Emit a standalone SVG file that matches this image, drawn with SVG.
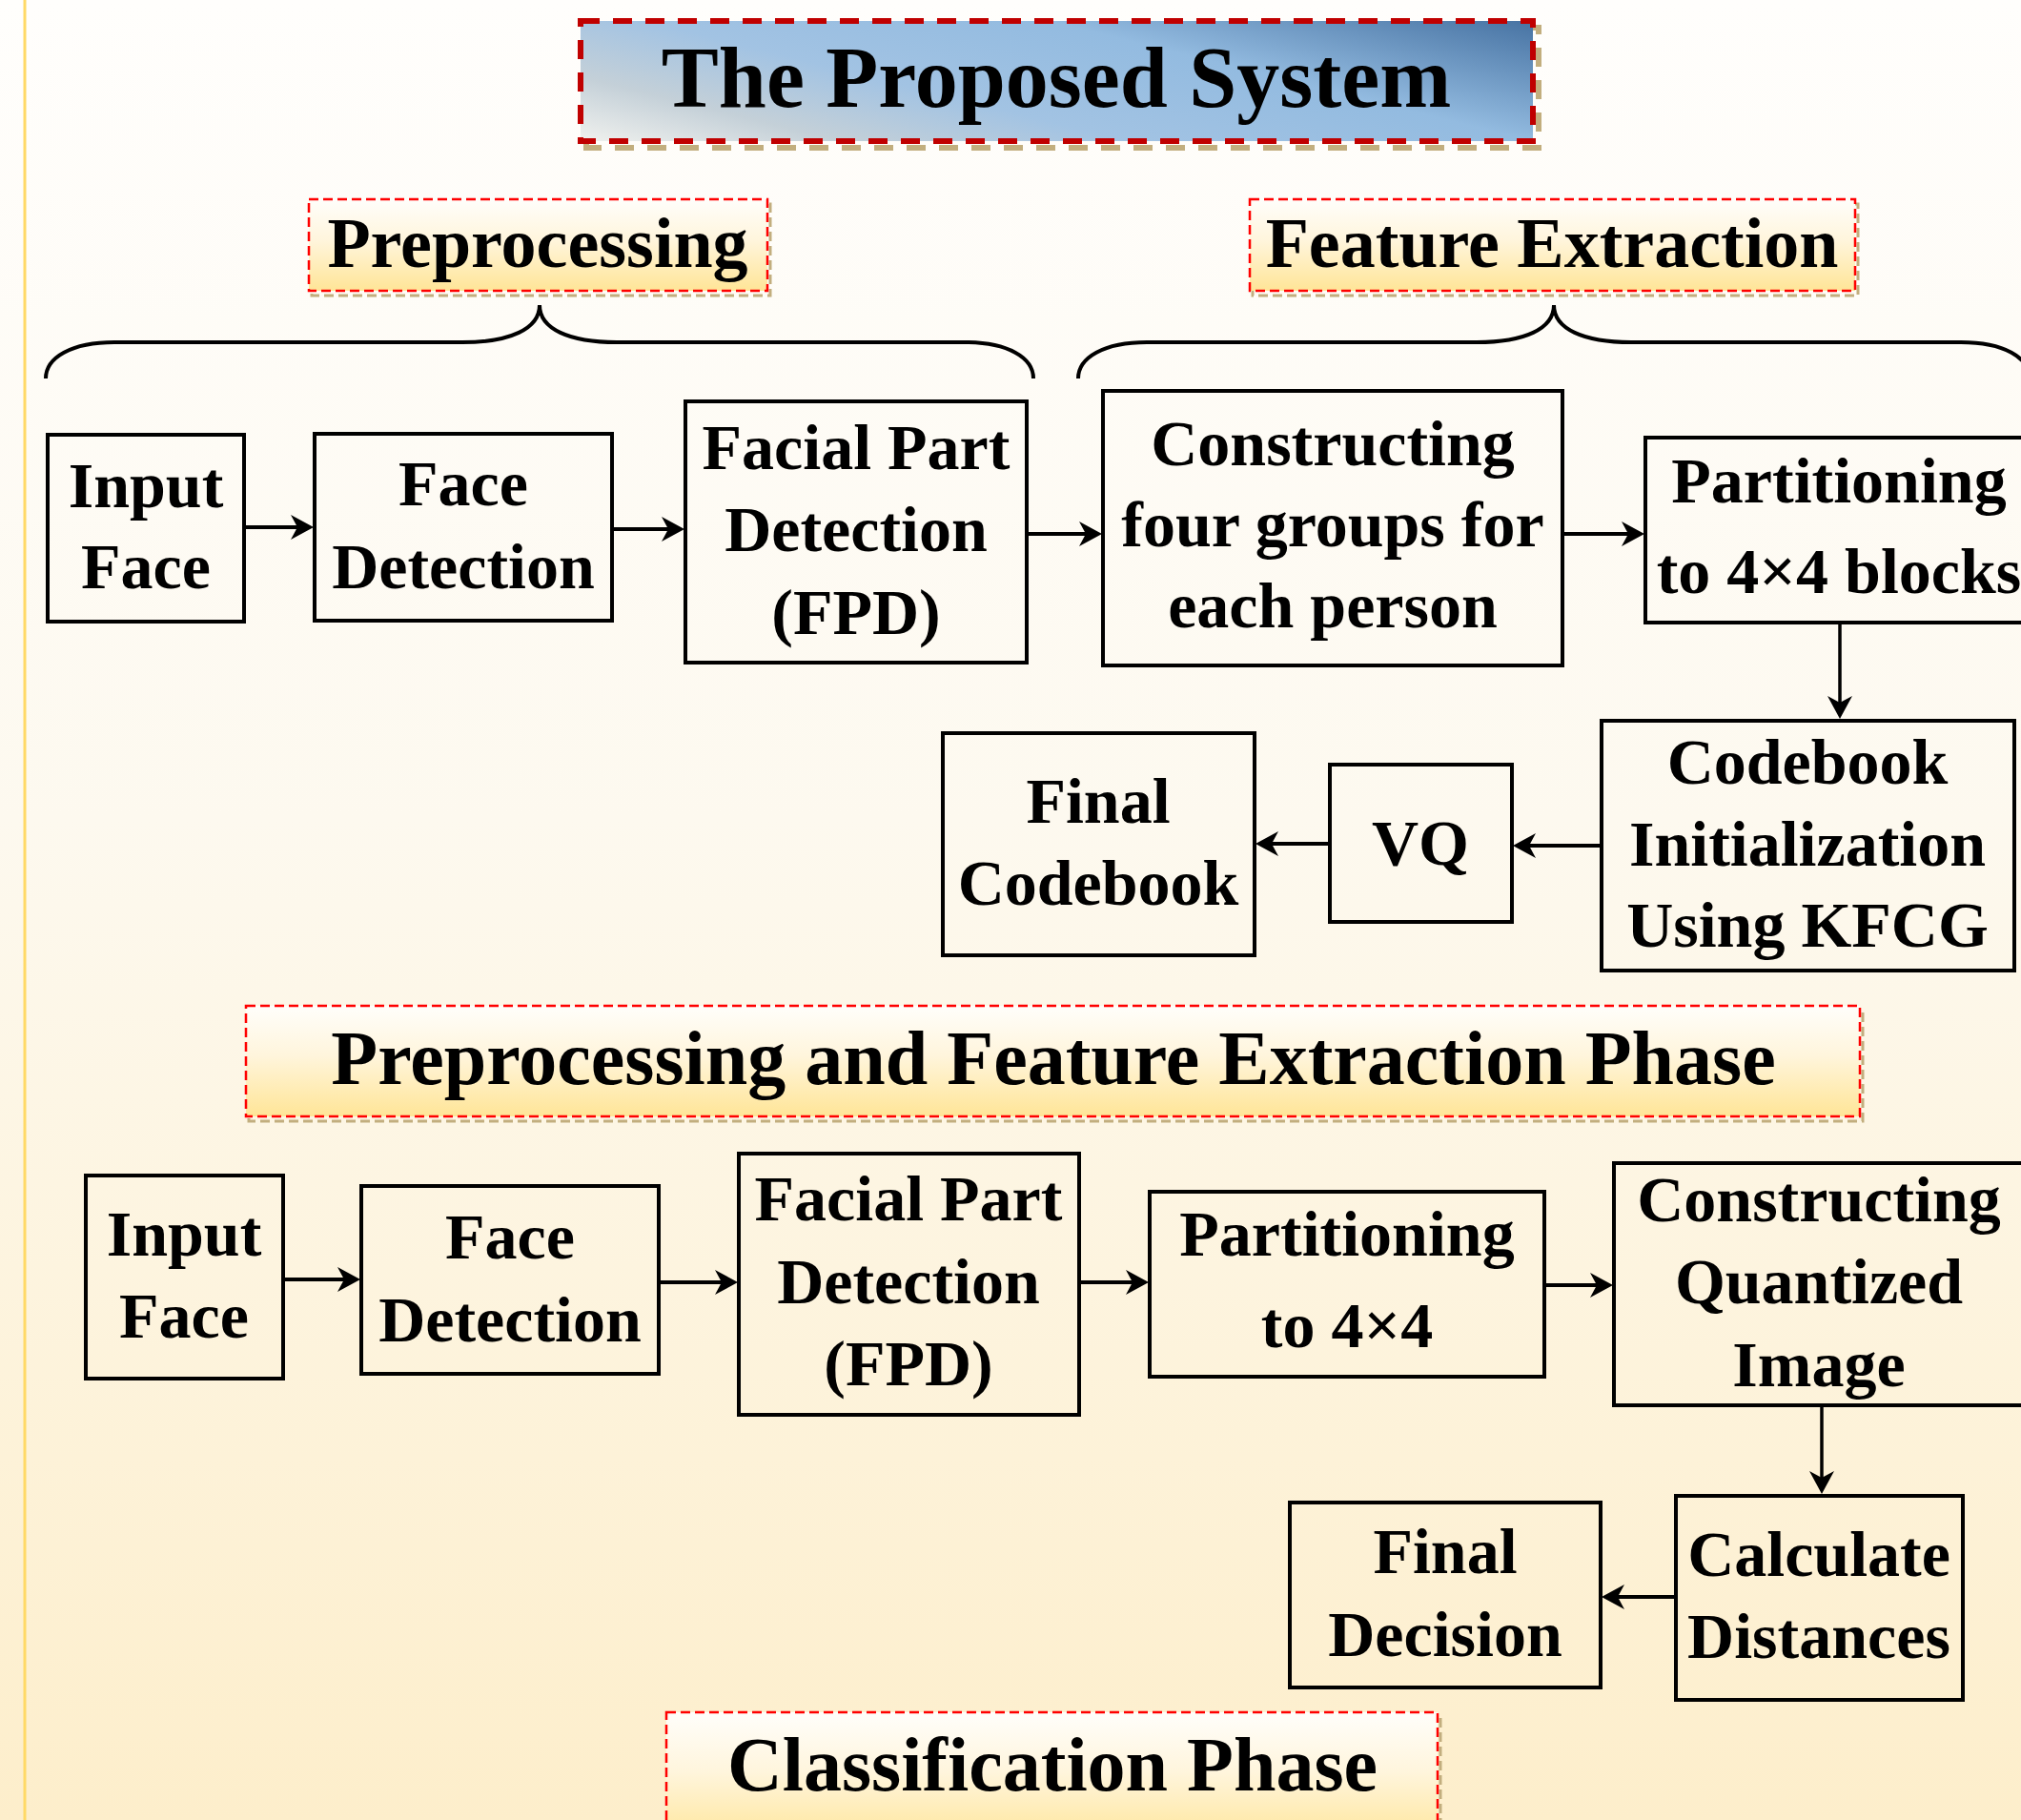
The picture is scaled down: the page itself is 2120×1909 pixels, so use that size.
<svg xmlns="http://www.w3.org/2000/svg" width="2120" height="1909" viewBox="0 0 2120 1909">
  <defs>
    <linearGradient id="bg" x1="0" y1="0" x2="0" y2="1">
      <stop offset="0" stop-color="#fffefc"/>
      <stop offset="0.45" stop-color="#fdf9ef"/>
      <stop offset="1" stop-color="#fdeecb"/>
    </linearGradient>
    <linearGradient id="titleGrad" gradientUnits="userSpaceOnUse" x1="609" y1="148" x2="697" y2="-206">
      <stop offset="0" stop-color="#f0f1ee"/>
      <stop offset="0.18" stop-color="#c4d0d8"/>
      <stop offset="0.38" stop-color="#a2c3e3"/>
      <stop offset="0.66" stop-color="#93bbe0"/>
      <stop offset="1" stop-color="#4672a2"/>
    </linearGradient>
    <linearGradient id="labelGrad" x1="0" y1="0" x2="0" y2="1">
      <stop offset="0" stop-color="#fffefb"/>
      <stop offset="0.45" stop-color="#fff5dc"/>
      <stop offset="1" stop-color="#ffe597"/>
    </linearGradient>
    <marker id="arrow" markerUnits="userSpaceOnUse" markerWidth="26" markerHeight="28" refX="12" refY="13" orient="auto" viewBox="0 0 26 26">
      <path d="M0,0 L24,13 L0,26 L7,13 Z" fill="#000"/>
    </marker>
    <style>
      .node rect { fill: none; stroke: #000; stroke-width: 4; }
      .node text { font-family: "Liberation Serif", "Times New Roman", serif; font-weight: bold; font-size: 68px; fill: #000; text-anchor: middle; }
      .lbl text { font-family: "Liberation Serif", "Times New Roman", serif; font-weight: bold; fill: #000; text-anchor: middle; }
      .lblshadow { fill: none; stroke: #c2ae7e; stroke-width: 3; stroke-dasharray: 10 5; }
      .lblbox { fill: url(#labelGrad); stroke: #ff0000; stroke-width: 2.5; stroke-dasharray: 10 5; }
      .conn line { stroke: #000; stroke-width: 4; marker-end: url(#arrow); }
      .conn line.v { stroke-width: 3.5; }
      .brace { fill: none; stroke: #000; stroke-width: 4; }
    </style>
  </defs>

  <rect x="0" y="0" width="2120" height="1909" fill="url(#bg)"/>
  <line x1="26" y1="0" x2="26" y2="1909" stroke="#ffd966" stroke-width="3"/>

  <g id="title" class="lbl">
    <rect x="615" y="29" width="999" height="126" fill="none" stroke="#c2ae7e" stroke-width="6" stroke-dasharray="20 14"/>
    <rect x="609" y="22" width="999" height="126" fill="url(#titleGrad)" stroke="#c00000" stroke-width="6" stroke-dasharray="20 14"/>
    <text x="1108" y="112" font-size="90">The Proposed System</text>
  </g>

  <g id="label-preprocessing" class="lbl">
    <rect class="lblshadow" x="327" y="214" width="481" height="96"/>
    <rect class="lblbox" x="324" y="209" width="481" height="96"/>
    <text x="564" y="280" font-size="74">Preprocessing</text>
  </g>

  <g id="label-feature-extraction" class="lbl">
    <rect class="lblshadow" x="1314" y="214" width="635" height="96"/>
    <rect class="lblbox" x="1311" y="209" width="635" height="96"/>
    <text x="1628" y="280" font-size="74">Feature Extraction</text>
  </g>

  <g id="braces">
    <path class="brace" d="M48,397 C48,375 75,359 120,359 L485,359 C535,359 566,345 566,320 C566,345 597,359 647,359 L1012,359 C1057,359 1084,375 1084,397"/>
    <path class="brace" d="M1131,397 C1131,375 1158,359 1203,359 L1549,359 C1599,359 1630,345 1630,320 C1630,345 1661,359 1711,359 L2057,359 C2102,359 2129,375 2129,397"/>
  </g>

  <!-- Row 1 -->
  <g id="input-face-1" class="node">
    <rect x="50" y="456" width="206" height="196"/>
    <text><tspan x="153" y="532">Input</tspan><tspan x="153" y="617">Face</tspan></text>
  </g>
  <g id="face-detection-1" class="node">
    <rect x="330" y="455" width="312" height="196"/>
    <text><tspan x="486" y="530">Face</tspan><tspan x="486" y="617">Detection</tspan></text>
  </g>
  <g id="fpd-1" class="node">
    <rect x="719" y="421" width="358" height="274"/>
    <text><tspan x="898" y="492">Facial Part</tspan><tspan x="898" y="578">Detection</tspan><tspan x="898" y="665">(FPD)</tspan></text>
  </g>
  <g id="constructing-groups" class="node">
    <rect x="1157" y="410" width="482" height="288"/>
    <text><tspan x="1398" y="488">Constructing</tspan><tspan x="1398" y="573">four groups for</tspan><tspan x="1398" y="658">each person</tspan></text>
  </g>
  <g id="partitioning-1" class="node">
    <rect x="1726" y="459" width="406" height="194"/>
    <text><tspan x="1929" y="527">Partitioning</tspan><tspan x="1929" y="622">to 4×4 blocks</tspan></text>
  </g>
  <g id="codebook-init" class="node">
    <rect x="1680" y="756" width="433" height="262"/>
    <text><tspan x="1896" y="822">Codebook</tspan><tspan x="1896" y="908">Initialization</tspan><tspan x="1896" y="993">Using KFCG</tspan></text>
  </g>
  <g id="vq" class="node">
    <rect x="1395" y="802" width="191" height="165"/>
    <text x="1490" y="907">VQ</text>
  </g>
  <g id="final-codebook" class="node">
    <rect x="989" y="769" width="327" height="233"/>
    <text><tspan x="1152" y="863">Final</tspan><tspan x="1152" y="949">Codebook</tspan></text>
  </g>

  <g id="label-phase-1" class="lbl">
    <rect class="lblshadow" x="261" y="1060" width="1693" height="116"/>
    <rect class="lblbox" x="258" y="1055" width="1693" height="116"/>
    <text x="1105" y="1137" font-size="80">Preprocessing and Feature Extraction Phase</text>
  </g>

  <!-- Row 2 -->
  <g id="input-face-2" class="node">
    <rect x="90" y="1233" width="207" height="213"/>
    <text><tspan x="193" y="1317">Input</tspan><tspan x="193" y="1403">Face</tspan></text>
  </g>
  <g id="face-detection-2" class="node">
    <rect x="379" y="1244" width="312" height="197"/>
    <text><tspan x="535" y="1320">Face</tspan><tspan x="535" y="1407">Detection</tspan></text>
  </g>
  <g id="fpd-2" class="node">
    <rect x="775" y="1210" width="357" height="274"/>
    <text><tspan x="953" y="1280">Facial Part</tspan><tspan x="953" y="1367">Detection</tspan><tspan x="953" y="1453">(FPD)</tspan></text>
  </g>
  <g id="partitioning-2" class="node">
    <rect x="1206" y="1250" width="414" height="194"/>
    <text><tspan x="1413" y="1317">Partitioning</tspan><tspan x="1413" y="1413">to 4×4</tspan></text>
  </g>
  <g id="constructing-quantized" class="node">
    <rect x="1693" y="1220" width="430" height="254"/>
    <text><tspan x="1908" y="1281">Constructing</tspan><tspan x="1908" y="1367">Quantized</tspan><tspan x="1908" y="1454">Image</tspan></text>
  </g>
  <g id="calculate-distances" class="node">
    <rect x="1758" y="1569" width="301" height="214"/>
    <text><tspan x="1908" y="1653">Calculate</tspan><tspan x="1908" y="1739">Distances</tspan></text>
  </g>
  <g id="final-decision" class="node">
    <rect x="1353" y="1576" width="326" height="194"/>
    <text><tspan x="1516" y="1650">Final</tspan><tspan x="1516" y="1737">Decision</tspan></text>
  </g>

  <g id="label-phase-2" class="lbl">
    <rect class="lblshadow" x="702" y="1801" width="809" height="140"/>
    <rect class="lblbox" x="699" y="1796" width="809" height="140"/>
    <text x="1104" y="1878" font-size="80">Classification Phase</text>
  </g>

  <g id="connectors" class="conn">
    <line x1="258" y1="553" x2="317" y2="553"/>
    <line x1="644" y1="555" x2="706" y2="555"/>
    <line x1="1079" y1="560" x2="1144" y2="560"/>
    <line x1="1641" y1="560" x2="1713" y2="560"/>
    <line class="v" x1="1930" y1="655" x2="1930" y2="742"/>
    <line x1="1678" y1="887" x2="1599" y2="887"/>
    <line x1="1393" y1="885" x2="1329" y2="885"/>
    <line x1="299" y1="1342" x2="366" y2="1342"/>
    <line x1="693" y1="1345" x2="762" y2="1345"/>
    <line x1="1134" y1="1345" x2="1193" y2="1345"/>
    <line x1="1622" y1="1348" x2="1680" y2="1348"/>
    <line class="v" x1="1911" y1="1476" x2="1911" y2="1555"/>
    <line x1="1756" y1="1675" x2="1692" y2="1675"/>
  </g>
</svg>
